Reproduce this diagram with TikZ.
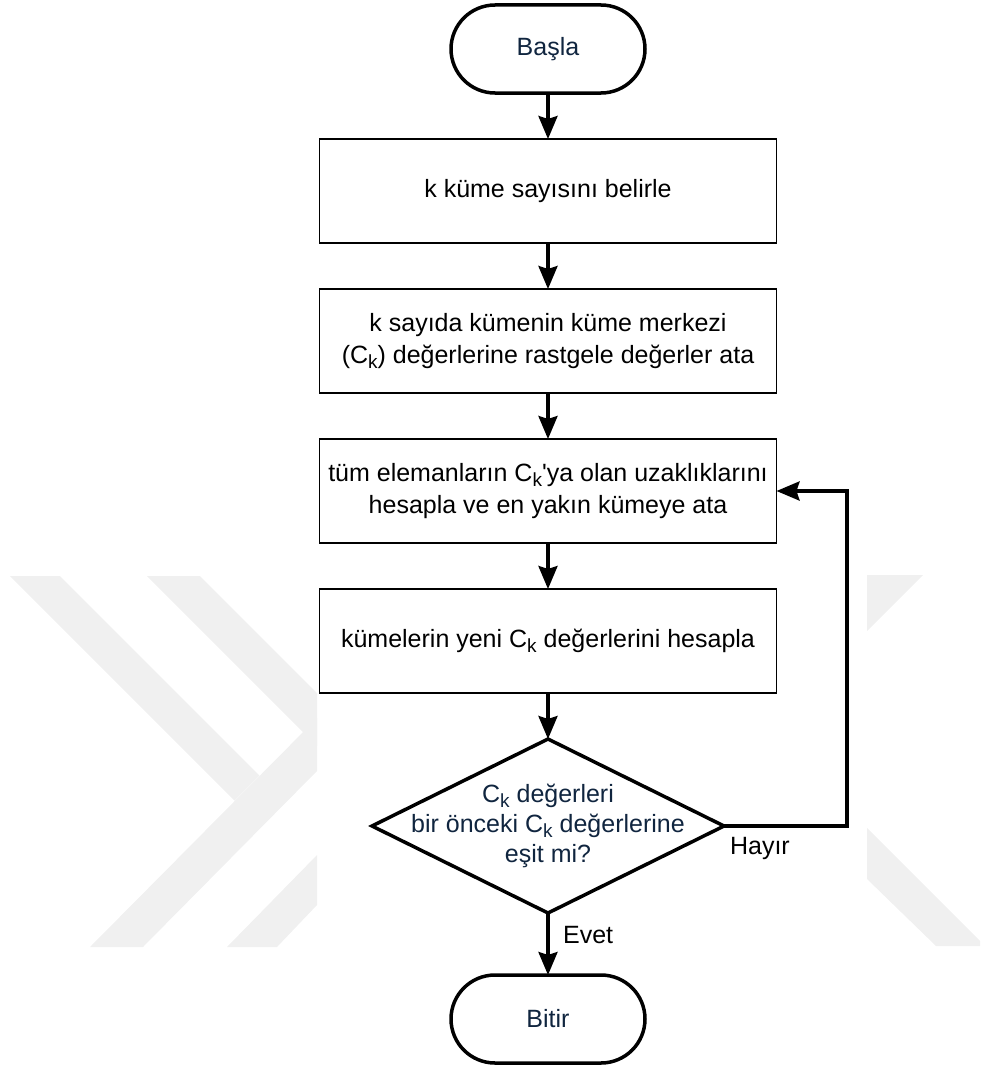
\documentclass[tikz,border=0pt]{standalone}
\usepackage{fontspec}
\setmainfont{Liberation Sans}
\usetikzlibrary{positioning,shapes.geometric,arrows.meta}
\definecolor{navy}{RGB}{16,37,63}
\definecolor{wmgray}{RGB}{240,240,240}
\newcommand{\Ck}{C\raisebox{-5pt}{\fontsize{19}{19}\selectfont k}}

\begin{document}
\begin{tikzpicture}[x=1pt,y=1pt,
    font=\fontsize{25}{32}\selectfont,
    node distance=46pt,
    term/.style={draw,line width=3.5pt,rounded corners=44pt,outer sep=0pt,
        minimum width=194pt,minimum height=88pt,text=navy},
    proc/.style={draw,line width=1.6pt,outer sep=0pt,align=center,
        minimum width=457pt,minimum height=104pt},
    dec/.style={draw,diamond,line width=3.5pt,outer sep=0pt,inner sep=0pt,
        minimum width=352pt,minimum height=174pt},
    dtext/.style={align=center,text=navy,font=\fontsize{25}{30}\selectfont},
    arr/.style={line width=3.5pt,-{Stealth[length=23pt,width=19pt,inset=3pt]}}]
    \useasboundingbox (0,0) rectangle (980,-1065);
    % watermark
    \fill[wmgray] (10,-576) -- (60,-576) -- (259.5,-775.5) -- (234.5,-800.5) -- cycle;
    \fill[wmgray] (90,-947) -- (143,-947) -- (317,-771) -- (317,-718) -- cycle;
    \fill[wmgray] (147,-576) -- (200,-576) -- (317,-693) -- (317,-746) -- cycle;
    \fill[wmgray] (227,-947) -- (277,-947) -- (317,-905) -- (317,-855) -- cycle;
    \fill[wmgray] (867,-575) -- (923,-575) -- (867,-631) -- cycle;
    \fill[wmgray] (867,-828) -- (980,-941) -- (980,-946) -- (936,-946) -- (867,-879) -- cycle;

    \node[term] (s1) at (548,-49) {Başla};
    \node[proc, below=of s1] (b1) {k küme sayısını belirle};
    \node[proc, below=of b1] (b2) {k sayıda kümenin küme merkezi\\(\Ck) değerlerine rastgele değerler ata};
    \node[proc, below=of b2] (b3) {tüm elemanların \Ck\textquotesingle ya olan uzaklıklarını\\hesapla ve en yakın kümeye ata};
    \node[proc, below=of b3] (b4) {kümelerin yeni \Ck{} değerlerini hesapla};
    \node[dec, below=of b4] (d1) {};
    \node[dtext] (d1t) at (d1) {\Ck{} değerleri\\bir önceki \Ck{} değerlerine\\eşit mi?};
    \node[term, below=62pt of d1] (e1) {Bitir};

    \draw[arr] (s1) -- (b1);
    \draw[arr] (b1) -- (b2);
    \draw[arr] (b2) -- (b3);
    \draw[arr] (b3) -- (b4);
    \draw[arr] (b4) -- (d1);
    \draw[arr] (d1) -- node[pos=0.35, right=10pt] {Evet} (e1);
    \draw[arr] (d1.east) -- node[pos=0, anchor=west, xshift=1pt, yshift=-22pt] {Hayır} ++(123,0) |- (b3.east);
\end{tikzpicture}
\end{document}
